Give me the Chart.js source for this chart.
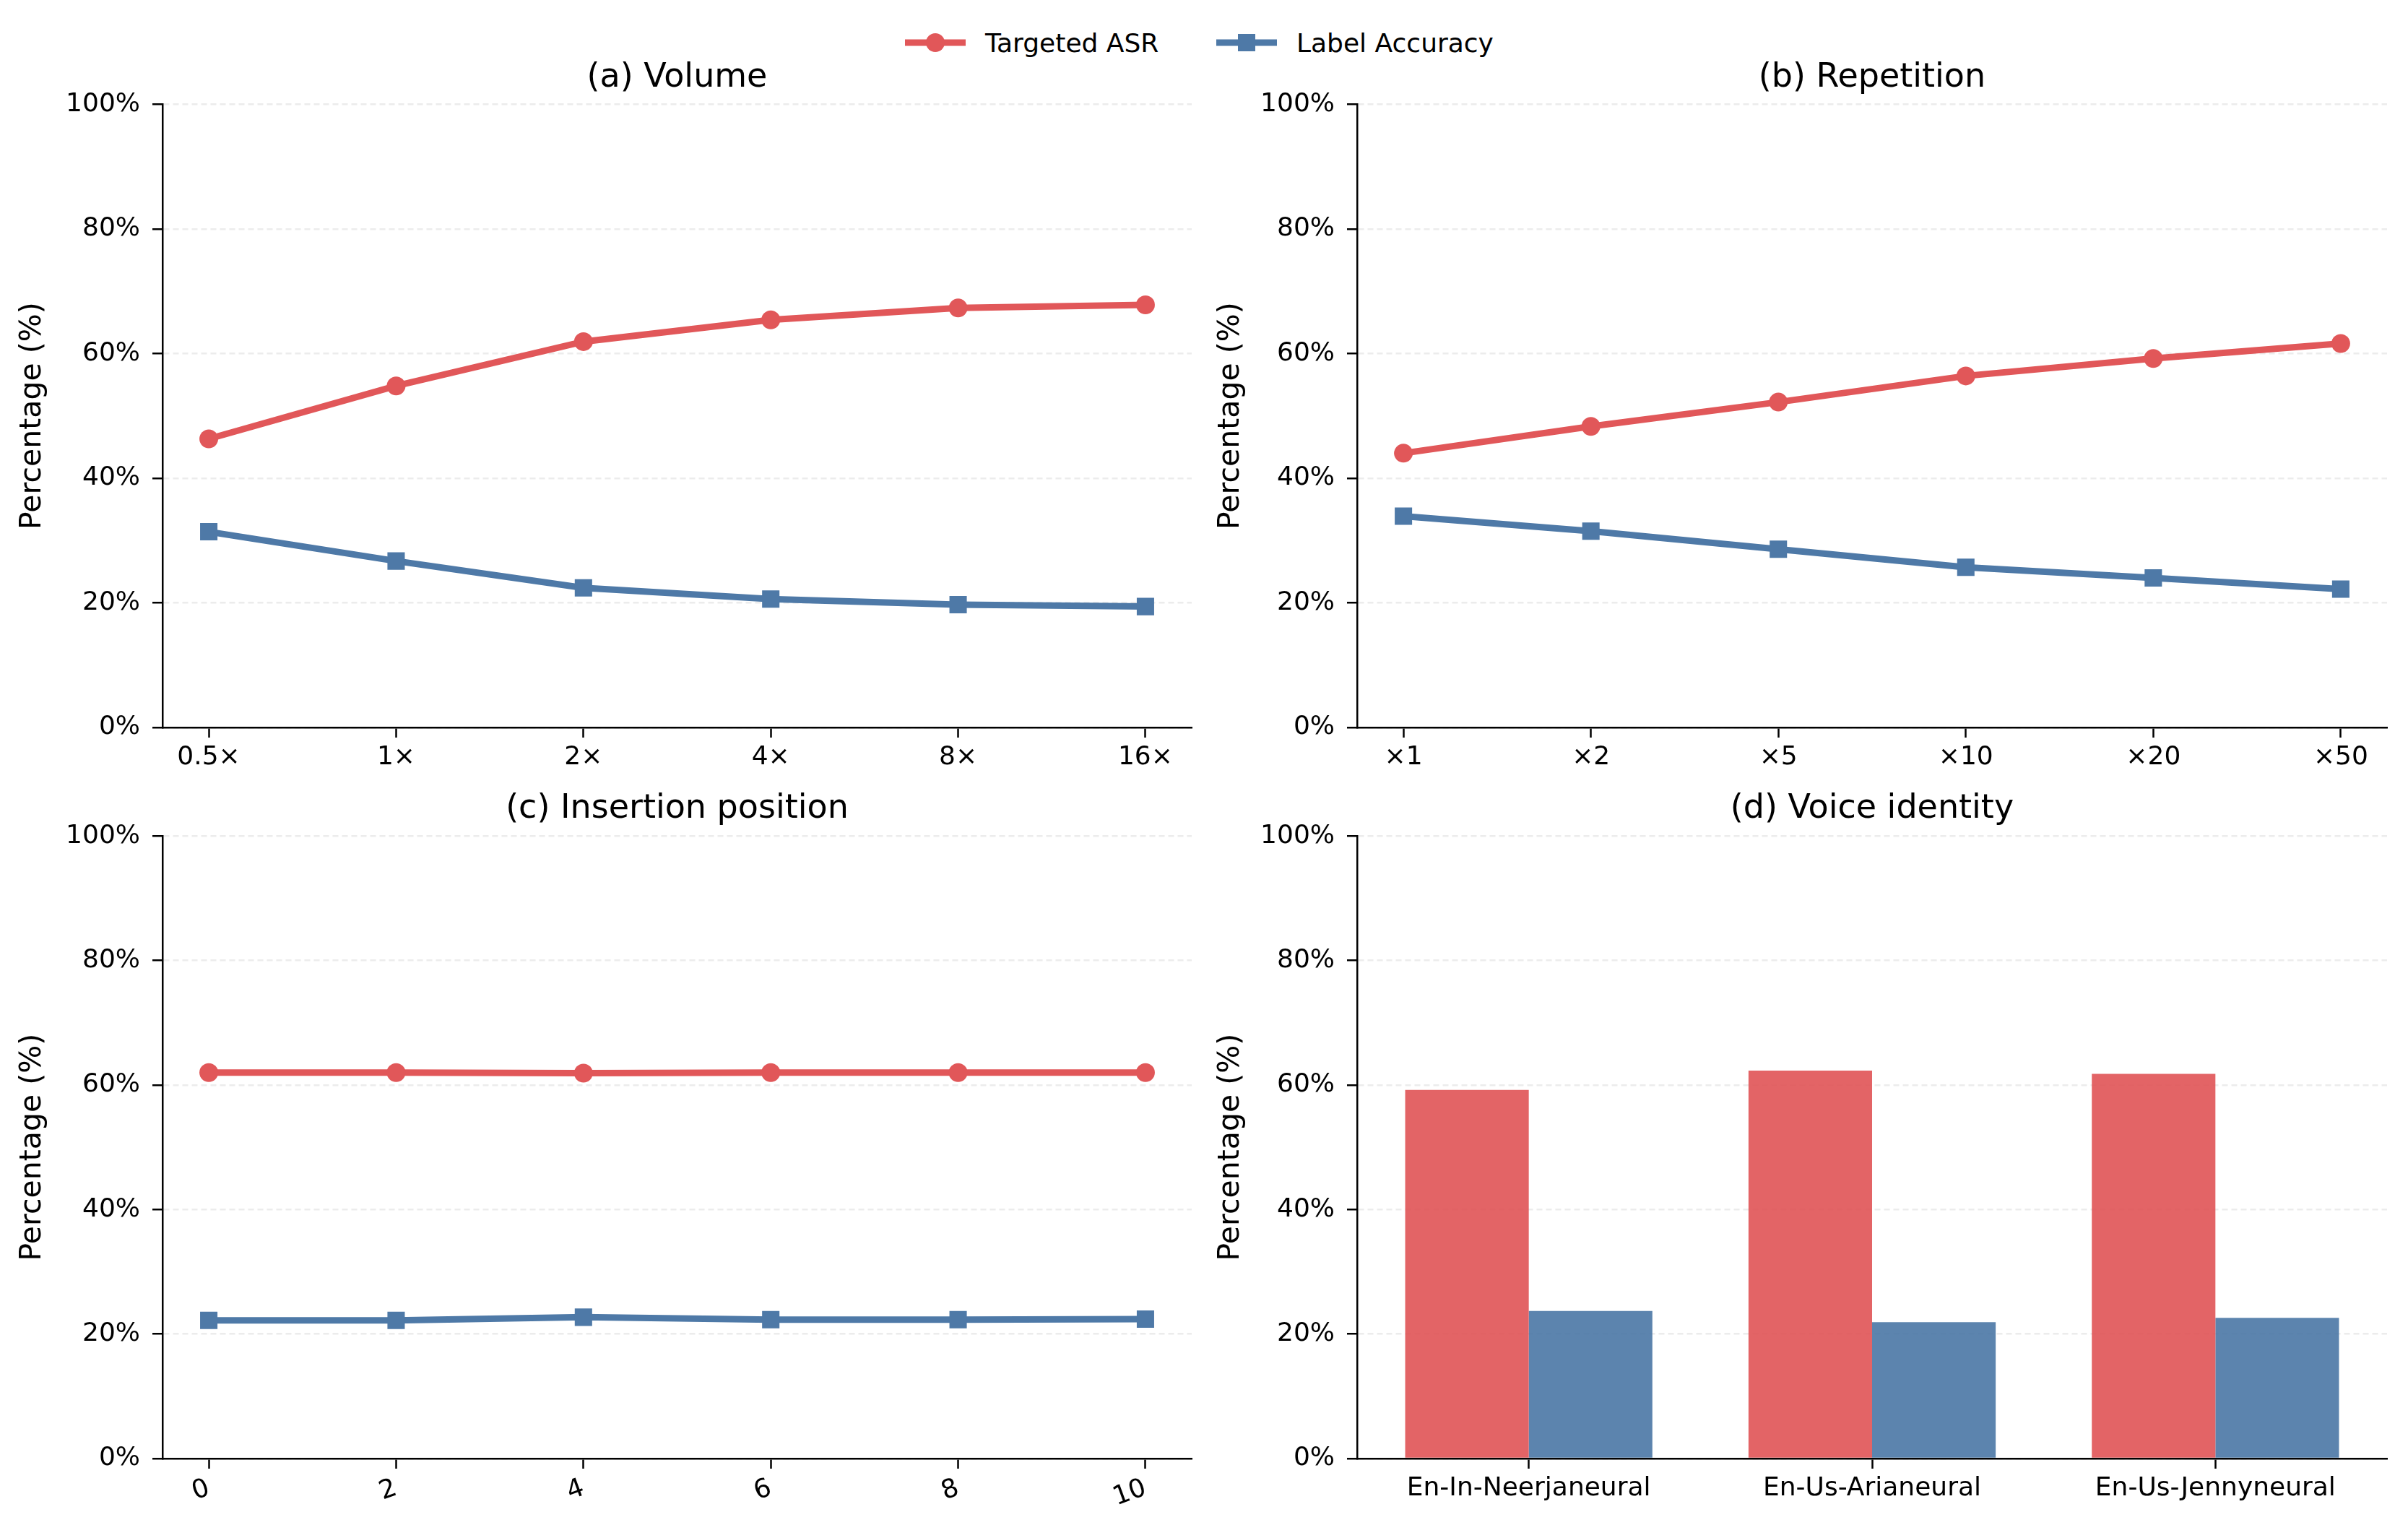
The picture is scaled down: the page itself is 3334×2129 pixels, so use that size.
<!DOCTYPE html>
<html>
<head>
<meta charset="utf-8">
<script src="https://cdn.jsdelivr.net/npm/chart.js@4"></script>
<style>
  body { margin: 0; background: #fff; width: 3334px; height: 2129px; position: relative; overflow: hidden;
         font-family: 'DejaVu Sans', sans-serif; }
  canvas { position: absolute; }
  .leg { position: absolute; top: 35px; height: 48px; display: flex; align-items: center; font-size: 36px; color: #000; }
  .leg svg { margin-right: 27px; }
</style>
</head>
<body>
<div class="leg" style="left:1253px">
  <svg width="84" height="30"><line x1="0" y1="15" x2="84" y2="15" stroke="#E15759" stroke-width="9"/><circle cx="42" cy="15" r="13" fill="#E15759"/></svg>
  <span>Targeted ASR</span>
</div>
<div class="leg" style="left:1684px">
  <svg width="84" height="30"><line x1="0" y1="15" x2="84" y2="15" stroke="#4E79A7" stroke-width="9"/><rect x="30" y="3" width="24" height="24" fill="#4E79A7"/></svg>
  <span>Label Accuracy</span>
</div>

<canvas id="volume" width="1667" height="1064" style="left:0;top:0"></canvas>
<canvas id="repetition" width="1667" height="1064" style="left:1667px;top:0"></canvas>
<canvas id="position" width="1667" height="1065" style="left:0;top:1064px"></canvas>
<canvas id="voice" width="1667" height="1065" style="left:1667px;top:1064px"></canvas>

<script>
// data
const volumeLabels = ['0.5×', '1×', '2×', '4×', '8×', '16×'];
const volumeAsr = [46.3, 54.8, 61.9, 65.4, 67.3, 67.8];
const volumeAcc = [31.4, 26.7, 22.4, 20.6, 19.7, 19.4];

const repetitionLabels = ['×1', '×2', '×5', '×10', '×20', '×50'];
const repetitionAsr = [44.0, 48.3, 52.2, 56.4, 59.2, 61.6];
const repetitionAcc = [33.9, 31.5, 28.6, 25.7, 24.0, 22.2];

const positionValues = [0, 2, 4, 6, 8, 10];
const positionAsr = [62.0, 62.0, 61.9, 62.0, 62.0, 62.0];
const positionAcc = [22.2, 22.2, 22.7, 22.3, 22.3, 22.4];

const voiceLabels = ['En-In-Neerjaneural', 'En-Us-Arianeural', 'En-Us-Jennyneural'];
const voiceAsr = [59.2, 62.3, 61.8];
const voiceAcc = [23.7, 21.9, 22.6];

const yTicks = [0, 20, 40, 60, 80, 100];

const RED = '#E15759';
const BLUE = '#4E79A7';

Chart.defaults.font.family = "'DejaVu Sans', sans-serif";
Chart.defaults.color = '#000';

function yScale(axisLeft, titlePad, gridOnTop) {
  return {
    min: 0, max: 100, bounds: 'data',
    afterBuildTicks: s => { s.ticks = yTicks.map(v => ({ value: v })); },
    afterFit: s => { s.width = axisLeft; },
    ticks: { callback: v => v + '%', font: { size: 36 }, padding: 17 },
    grid: { color: 'rgba(220,220,220,0.55)', lineWidth: 2.5, tickLength: 14, tickColor: '#000', tickWidth: 2.5, borderDash: [8, 5] },
    border: { color: '#000', width: 2.5, dash: [8, 5] },
    title: { display: true, text: 'Percentage (%)', font: { size: 41 }, padding: { top: titlePad, bottom: 0 } },
    z: gridOnTop ? 1 : 0
  };
}

function xLinear(labels, xs, pad, axisHeight, rot) {
  return {
    type: 'linear', bounds: 'data',
    min: xs[0] - pad, max: xs[xs.length - 1] + pad,
    afterBuildTicks: s => { s.ticks = xs.map(v => ({ value: v })); },
    afterFit: s => { s.height = axisHeight; },
    ticks: { callback: (v, i) => labels[i], font: { size: 36 }, padding: 6, minRotation: rot, maxRotation: rot, autoSkip: false },
    grid: { drawOnChartArea: false, tickLength: 14, tickColor: '#000', tickWidth: 2.5 },
    border: { color: '#000', width: 2.5 }
  };
}

function titleOpts(text, top, bottom) {
  return { display: true, text: text, fullSize: false, color: '#000',
           font: { size: 46, weight: 'normal' }, padding: { top: top, bottom: bottom } };
}

function lineSets(xs, asr, acc) {
  return [
    { label: 'Targeted ASR', data: xs.map((x, i) => ({ x: x, y: asr[i] })),
      borderColor: RED, backgroundColor: RED, borderWidth: 9,
      pointStyle: 'circle', pointRadius: 13, pointBackgroundColor: RED, pointBorderWidth: 0 },
    { label: 'Label Accuracy', data: xs.map((x, i) => ({ x: x, y: acc[i] })),
      borderColor: BLUE, backgroundColor: BLUE, borderWidth: 9,
      pointStyle: 'rect', pointRadius: 17, pointBackgroundColor: BLUE, pointBorderWidth: 0 }
  ];
}

function linePanel(id, title, labels, xs, asr, acc, o) {
  new Chart(document.getElementById(id), {
    type: 'line',
    data: { datasets: lineSets(xs, asr, acc) },
    options: {
      responsive: false, animation: false, devicePixelRatio: 1,
      layout: { padding: { left: 0, right: o.right, top: 0, bottom: 0 } },
      plugins: { legend: { display: false }, tooltip: { enabled: false },
                 title: titleOpts(title, o.tTop, o.tBottom) },
      scales: { x: xLinear(labels, xs, o.pad, o.xh, o.rot || 0), y: yScale(o.left, o.yPad, false) }
    }
  });
}

const idx = volumeLabels.map((_, i) => i);

linePanel('volume', '(a) Volume', volumeLabels, idx, volumeAsr, volumeAcc,
  { right: 16, left: 225, tTop: 80, tBottom: 9, xh: 57, pad: 0.247, yPad: 21 });
linePanel('repetition', '(b) Repetition', repetitionLabels, idx, repetitionAsr, repetitionAcc,
  { right: 29, left: 212, tTop: 80, tBottom: 9, xh: 57, pad: 0.247, yPad: 13 });
linePanel('position', '(c) Insertion position', positionValues.map(String), positionValues, positionAsr, positionAcc,
  { right: 16, left: 225, tTop: 28, tBottom: 10, xh: 110, pad: 0.494, yPad: 21, rot: 20 });

new Chart(document.getElementById('voice'), {
  type: 'bar',
  data: {
    labels: voiceLabels,
    datasets: [
      { label: 'Targeted ASR', data: voiceAsr, backgroundColor: 'rgba(225,87,89,0.92)', borderWidth: 0 },
      { label: 'Label Accuracy', data: voiceAcc, backgroundColor: 'rgba(78,121,167,0.92)', borderWidth: 0 }
    ]
  },
  options: {
    responsive: false, animation: false, devicePixelRatio: 1,
    layout: { padding: { left: 0, right: 29, top: 0, bottom: 0 } },
    datasets: { bar: { barPercentage: 1.0, categoryPercentage: 0.72 } },
    plugins: { legend: { display: false }, tooltip: { enabled: false },
               title: titleOpts('(d) Voice identity', 28, 10) },
    scales: {
      x: {
        afterFit: s => { s.height = 110; },
        ticks: { font: { size: 36 }, padding: 6, maxRotation: 0, autoSkip: false },
        grid: { offset: false, drawOnChartArea: false, tickLength: 14, tickColor: '#000', tickWidth: 2.5 },
        border: { color: '#000', width: 2.5 },
        z: 1
      },
      y: yScale(212, 13, true)
    }
  }
});
</script>
</body>
</html>
